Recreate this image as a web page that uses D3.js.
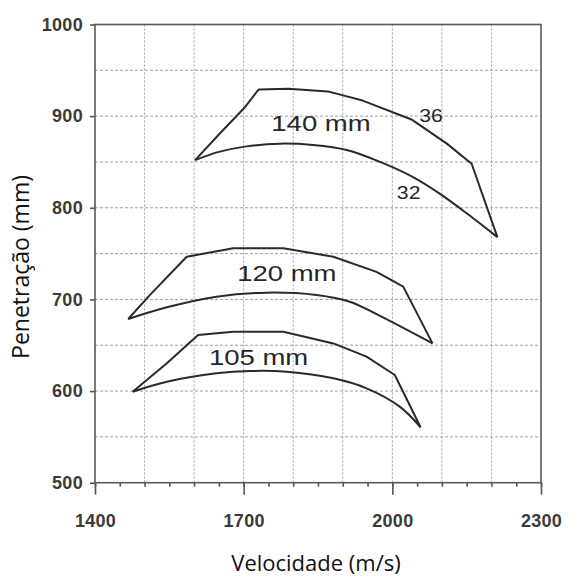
<!DOCTYPE html>
<html>
<head>
<meta charset="utf-8">
<script src="https://cdn.jsdelivr.net/npm/d3@7"></script>
<style>
  body { margin: 0; background: #fff; }
  svg { display: block; }
</style>
</head>
<body>
<div id="chart"></div>
<script>
// tick values
const velTicks = [1400, 1700, 2000, 2300];
const penTicks = [500, 600, 700, 800, 900, 1000];

// band edges, [velocity m/s, penetration mm] — upper edge (36) and lower edge (32)
const upper140 = [[1602, 852], [1650, 880], [1703, 910], [1730, 929], [1790, 930], [1870, 927], [1940, 917], [2040, 896], [2110, 870], [2160, 848], [2212, 768]];
const lower140 = [[1602, 852], [1650, 861], [1706, 867], [1773, 870], [1840, 868.5], [1908, 863], [1980, 849], [2040, 834], [2094, 816], [2150, 794], [2212, 768]];
const upper120 = [[1467, 678.6], [1511, 705], [1585, 746.6], [1679, 755.8], [1780, 755.8], [1881, 746.6], [1968, 730], [2022, 714], [2081, 652]];
const lower120 = [[1467, 678.6], [1545, 691.4], [1645, 703], [1746, 707.4], [1847, 704.8], [1914, 697.5], [1975, 682], [2081, 652]];
const upper105 = [[1476, 599.3], [1545, 630.3], [1608, 661.2], [1679, 664.8], [1780, 664.8], [1881, 652], [1948, 637.5], [2005, 617.5], [2057, 560.5]];
const lower105 = [[1476, 599.3], [1545, 610.2], [1645, 619.4], [1713, 621.9], [1787, 621.1], [1881, 613.9], [1948, 603], [2015, 583], [2057, 560.5]];

// text inside the plot
const labelText = ["140 mm", "120 mm", "105 mm", "36", "32"];
const labelVel = [1856, 1787, 1730, 2078, 2033];
const labelPen = [892, 728.5, 637.5, 901, 817.5];

const W = 569, H = 579;
const margin = { top: 24.5, right: 28, bottom: 96.3, left: 95 };
const width = W - margin.left - margin.right;
const height = H - margin.top - margin.bottom;

const svg = d3.select("#chart").append("svg")
  .attr("width", W)
  .attr("height", H);

const g = svg.append("g")
  .attr("transform", `translate(${margin.left},${margin.top})`);

const x = d3.scaleLinear().domain([1400, 2300]).range([0, width]);
const y = d3.scaleLinear().domain([500, 1000]).range([height, 0]);

// dotted grid
g.append("g")
  .selectAll("line")
  .data(d3.range(1500, 2300, 100))
  .enter()
  .append("line")
  .attr("x1", d => x(d)).attr("x2", d => x(d))
  .attr("y1", 0).attr("y2", height)
  .attr("stroke", "#a0a0a0")
  .attr("stroke-width", 1)
  .attr("stroke-dasharray", "2,2");

g.append("g")
  .selectAll("line")
  .data(d3.range(550, 1000, 50))
  .enter()
  .append("line")
  .attr("y1", d => y(d)).attr("y2", d => y(d))
  .attr("x1", 0).attr("x2", width)
  .attr("stroke", "#a0a0a0")
  .attr("stroke-width", 1)
  .attr("stroke-dasharray", "3,2");

// frame
g.append("rect")
  .attr("width", width)
  .attr("height", height)
  .attr("fill", "none")
  .attr("stroke", "#5a5a5a")
  .attr("stroke-width", 1.6);

// axes
const minorX = g.append("g")
  .attr("transform", `translate(0,${height})`)
  .call(d3.axisBottom(x).tickValues(d3.range(1400, 2301, 50)).tickSize(4).tickFormat(""));

const majorX = g.append("g")
  .attr("transform", `translate(0,${height})`)
  .call(d3.axisBottom(x).tickValues(velTicks).tickSize(12).tickPadding(20).tickFormat(d3.format("d")));

const leftY = g.append("g")
  .call(d3.axisLeft(y).tickValues(penTicks).tickSize(5).tickPadding(7).tickFormat(d3.format("d")));

[minorX, majorX, leftY].forEach(a => {
  a.select(".domain").remove();
  a.selectAll(".tick line").attr("stroke", "#555").attr("stroke-width", 1.6);
  a.selectAll(".tick text")
    .attr("fill", "#3a3a3a")
    .style("font-family", "'Liberation Sans', Arial, sans-serif")
    .style("font-weight", "bold")
    .style("font-size", "18px")
    .style("letter-spacing", "0.3px");
});

// bands
const edge = d3.line().x(d => x(d[0])).y(d => y(d[1]));
const smoothEdge = d3.line().x(d => x(d[0])).y(d => y(d[1])).curve(d3.curveCatmullRom.alpha(0.5));

[upper140, upper120, upper105].forEach(s => {
  g.append("path").attr("d", edge(s))
    .attr("fill", "none").attr("stroke", "#2a2a2a").attr("stroke-width", 2)
    .attr("stroke-linejoin", "round");
});
[lower140, lower120, lower105].forEach(s => {
  g.append("path").attr("d", smoothEdge(s))
    .attr("fill", "none").attr("stroke", "#2a2a2a").attr("stroke-width", 2)
    .attr("stroke-linejoin", "round");
});

// labels inside plot
g.append("g")
  .selectAll("text")
  .data(labelText)
  .enter()
  .append("text")
  .attr("transform", (d, i) => `translate(${x(labelVel[i])},${y(labelPen[i])}) scale(${d.length > 2 ? 1.25 : 1.12},1)`)
  .attr("text-anchor", "middle")
  .attr("dy", "0.36em")
  .attr("fill", "#262626")
  .style("font-family", "'Liberation Sans', Arial, sans-serif")
  .style("font-size", d => d.length > 2 ? "22px" : "19px")
  .text(d => d);

// axis titles
svg.append("text")
  .attr("transform", `translate(21,267) rotate(-90)`)
  .attr("text-anchor", "middle")
  .attr("dy", "0.35em")
  .attr("fill", "#111")
  .style("font-family", "'Open Sans', sans-serif")
  .style("font-size", "23px")
  .text("Penetração (mm)");

svg.append("text")
  .attr("x", 316)
  .attr("y", 571)
  .attr("text-anchor", "middle")
  .attr("fill", "#111")
  .style("font-family", "'Open Sans', sans-serif")
  .style("font-size", "22px")
  .text("Velocidade (m/s)");
</script>
</body>
</html>
